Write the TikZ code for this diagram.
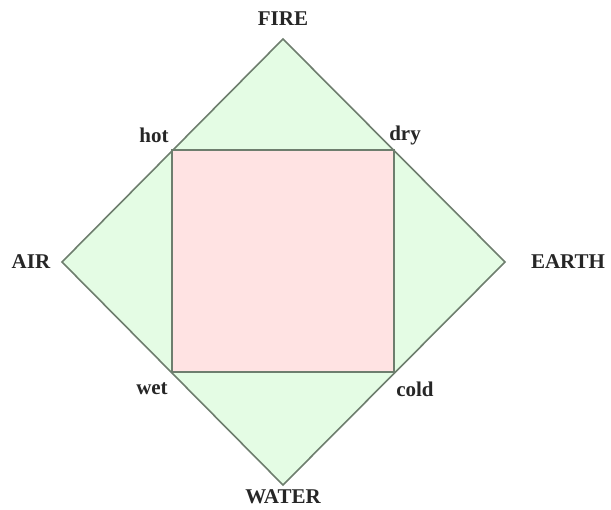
\documentclass[tikz,border=0pt]{standalone}
\usepackage{fontspec}
\setmainfont{Liberation Serif}
\definecolor{leaf}{HTML}{E4FCE4}
\definecolor{blush}{HTML}{FFE3E3}
\definecolor{edgegray}{HTML}{6E7E6E}
\tikzset{
  lbl/.style={font=\bfseries\fontsize{21}{24}\selectfont, inner sep=0pt, text=black!85},
  small/.style={font=\bfseries\fontsize{21}{24}\selectfont, inner sep=0pt, text=black!85},
  outer/.style={draw=edgegray, line width=1.6pt, fill=leaf},
  inner/.style={draw=edgegray, line width=2.2pt, fill=blush},
}
\begin{document}
\begin{tikzpicture}[x=1pt,y=-1pt]
\useasboundingbox (0,0) rectangle (611,510);
\coordinate (F) at (283,39);
\coordinate (E) at (505,262);
\coordinate (W) at (283,485);
\coordinate (A) at (62,262);
\coordinate (hc) at (172,150);
\coordinate (dc) at (394,150);
\coordinate (cc) at (394,372);
\coordinate (wc) at (172,372);
\draw[outer] (F) -- (E) -- (W) -- (A) -- cycle;
\draw[inner] (hc) -- (dc) -- (cc) -- (wc) -- cycle;
\node[lbl] (fire) at (283,19) {FIRE};
\node[lbl] (earth) at (568,262) {EARTH};
\node[lbl] (water) at (283,497) {WATER};
\node[lbl] (air) at (31,262) {AIR};
\node[small] (hot) at (154,135) {hot};
\node[small] (dry) at (405,135) {dry};
\node[small] (wet) at (152,389) {wet};
\node[small] (cold) at (415,389) {cold};
\end{tikzpicture}
\end{document}
